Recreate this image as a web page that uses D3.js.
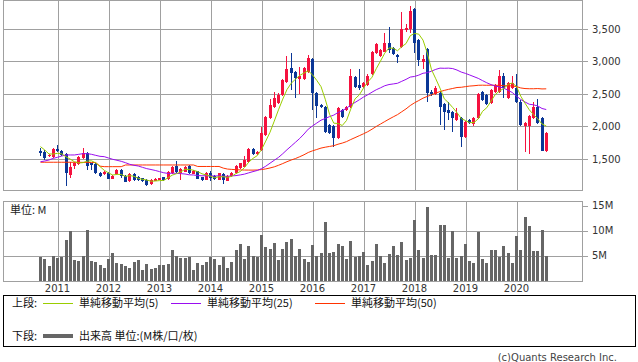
<!DOCTYPE html>
<html>
<head>
<meta charset="utf-8">
<script src="https://cdn.jsdelivr.net/npm/d3@7"></script>
<style>
  body { margin: 0; background: #fff; }
  svg text { font-family: "DejaVu Sans", sans-serif; }
  .jp { font-family: "Noto Sans CJK JP", sans-serif !important; }
</style>
</head>
<body>
<div id="chart"></div>
<script>
// monthly candles, Sep 2010 .. Aug 2020
var openP = [1628,1612,1540,1526,1649,1628,1577,1254,1392,1423, 1520,1590,1434,1428,1289,1264,1289,1197,1264,1335,
  1238,1166,1269,1228,1203,1177,1115,1161,1177,1218, 1188,1280,1397,1290,1305,1397,1274,1310,1218,1177,
  1289,1238,1177,1269,1166,1238,1280,1357,1382,1458, 1654,1580,1638,1869,2126,2305,2357,2485,2689,2895,
  2843,2726,2726,2843,3034,2511,2331,2305,2023,2008, 1823,2254,2254,2300,2762,2638,2608,2638,2808,3131,
  3085,3150,3280,3200,3100,3228,3490,3495,3808,3331, 2992,3188,2530,2500,2515,2346,2254,2223,2100,2131,
  1846,2100,2043,2131,2526,2480,2362,2530,2530,2777, 2438,2592,2592,2377,2008,2008,2130,2300,2130,1623];
var highP = [1665,1640,1575,1665,1715,1640,1590,1458,1460,1540, 1665,1600,1440,1440,1300,1315,1300,1250,1345,1350,
  1250,1280,1285,1240,1215,1190,1185,1200,1215,1230, 1310,1395,1470,1355,1395,1410,1330,1320,1225,1300,
  1310,1250,1290,1280,1250,1300,1410,1445,1540,1665, 1670,1625,1990,2160,2420,2535,2520,2730,3092,3123,
  2860,2920,2910,3100,3050,2530,2345,2320,2040,2030, 2300,2270,2320,2880,2780,2880,2690,2800,3160,3290,
  3190,3438,3535,3220,3110,3766,3570,3854,3820,3340, 3100,3205,2560,2620,2530,2360,2382,2240,2285,2150,
  2085,2115,2145,2520,2540,2500,2580,2660,2869,2830, 2690,2777,2800,2400,2070,2180,2380,2420,2150,1915];
var lowP = [1546,1490,1525,1515,1600,1550,1089,1208,1340,1410, 1505,1331,1330,1270,1230,1250,1185,1190,1255,1200,
  1140,1150,1165,1165,1150,1085,1100,1155,1170,1165, 1180,1270,1290,1177,1295,1275,1265,1185,1165,1170,
  1160,1175,1170,1115,1160,1230,1270,1345,1370,1440, 1560,1560,1620,1855,2110,2290,2340,2470,2670,2562,
  2434,2500,2710,2830,2254,2130,2285,1900,1885,1685, 1810,2130,2240,2290,2590,2560,2590,2620,2790,3120,
  3070,3140,3130,3100,2972,3210,3460,3440,3131,2930, 2880,2377,2470,2480,2023,1946,2100,1915,2090,1685,
  1830,2040,2010,2120,2390,2330,2345,2510,2510,2440, 2420,2570,2360,2000,1615,1580,2110,2040,1620,1610];
var closeP = [1597,1510,1560,1649,1617,1562,1280,1382,1443,1526, 1590,1397,1403,1280,1246,1305,1197,1238,1331,1240,
  1151,1269,1177,1177,1161,1100,1177,1192,1208,1177, 1300,1382,1305,1341,1382,1290,1315,1197,1177,1289,
  1203,1187,1280,1177,1238,1289,1397,1434,1485,1654, 1577,1610,1895,2142,2331,2434,2485,2715,2880,2818,
  2742,2777,2895,3049,2511,2315,2300,1920,1900,1823, 2285,2146,2305,2777,2608,2592,2670,2777,3140,3269,
  3177,3280,3177,3115,3075,3495,3515,3782,3289,3023, 3038,2520,2500,2592,2300,2223,2208,2131,2208,1838,
  2070,2054,2131,2500,2408,2350,2562,2638,2777,2592, 2669,2669,2377,2023,2054,2162,2300,2054,1623,1900];

// volume, millions
var volume = [4.7,4.3,3.0,4.9,4.5,4.7,8.2,9.9,4.1,3.9, 4.9,10.2,3.9,3.7,3.1,2.5,4.3,5.5,3.5,3.3,
  3.0,2.5,3.7,4.1,2.1,3.3,2.3,2.5,3.1,3.1, 3.3,6.2,4.9,4.5,4.5,4.7,2.1,3.6,3.1,3.8,
  4.7,4.3,3.1,4.7,2.5,3.7,6.2,7.4,4.3,7.0, 4.9,4.7,9.2,6.8,6.4,7.6,4.1,6.4,7.8,8.4,
  4.9,6.4,4.3,3.7,7.2,4.9,5.5,11.8,5.6,5.8, 7.4,7.0,4.3,8.0,4.7,4.9,5.7,3.1,3.9,7.4,
  4.9,3.5,5.3,7.0,5.1,7.8,4.1,4.5,12.2,6.2, 4.5,14.8,5.1,5.1,11.2,11.2,4.5,9.9,4.5,4.9,
  7.4,3.9,3.5,9.7,4.3,3.5,6.2,6.2,4.7,7.0, 5.5,3.5,9.0,6.2,12.8,11.0,6.0,6.0,10.2,4.9];

var ma5Lead = [1690,1638,1577,1577];
var ma25Lead = [1458,1469,1485,1510,1526,1546,1562,1562,1562,1572,1582,1582,1572,1556,1541,1536,
  1515,1495,1480,1464,1443,1418,1403,1392];
var ma50Lead = [1450,1450,1450,1450,1450,1450,1450,1450,1449,1449,1448,1447,1446,1445,1390,
  1382,1382,1382,1382,1382,1408,1408,1408,1408,1408,1408,1408,1408,1408,1408,1408,1408,1408,1408,
  1408,1408,1408,1385,1385,1385,1385,1385,1385,1360,1345,1340,1335,1332,1330];

var yearLabels = ['2011','2012','2013','2014','2015','2016','2017','2018','2019','2020'];
var yearIndex = [4,16,28,40,52,64,76,88,100,112];
var priceTicks = [1500,2000,2500,3000,3500];
var volumeTicks = [5,10,15];

var width = 638, height = 362;
var left = 3, right = 582;

var svg = d3.select('#chart').append('svg')
  .attr('width', width).attr('height', height);
svg.append('rect').attr('width', width).attr('height', height).attr('fill', '#fff');

var x = d3.scaleLinear().domain([0, 119]).range([40.5, 546.25]);
var y = d3.scaleLinear().domain([1023, 3946]).range([190, 0]);
var yv = d3.scaleLinear().domain([0, 15.9]).range([281, 201]);

function px(v) { return Math.round(v) + 0.5; }

var grid = svg.append('g').attr('stroke', '#a0a0a0').attr('stroke-width', 1).attr('shape-rendering', 'crispEdges');

// panel frames
grid.append('rect').attr('x', left + 0.5).attr('y', 0.5).attr('width', right - left).attr('height', 190).attr('fill', 'none');
grid.append('rect').attr('x', left + 0.5).attr('y', 201.5).attr('width', right - left).attr('height', 80).attr('fill', 'none');

// year gridlines
yearIndex.forEach(function(d) {
  grid.append('line').attr('x1', px(x(d))).attr('x2', px(x(d))).attr('y1', 0).attr('y2', 190.5);
  grid.append('line').attr('x1', px(x(d))).attr('x2', px(x(d))).attr('y1', 201).attr('y2', 281.5);
});

// price gridlines + labels
priceTicks.forEach(function(p) {
  grid.append('line').attr('x1', left).attr('x2', right + 6).attr('y1', px(y(p))).attr('y2', px(y(p)));
});
svg.append('g').selectAll('text').data(priceTicks).enter().append('text')
  .attr('x', 592).attr('y', function(d) { return y(d); }).attr('dy', '0.36em')
  .attr('font-size', '10px').attr('fill', '#333')
  .text(d3.format(','));

// volume gridlines + labels
volumeTicks.forEach(function(v) {
  grid.append('line').attr('x1', v === 15 ? right : left).attr('x2', right + 6).attr('y1', px(yv(v))).attr('y2', px(yv(v)));
});
svg.append('g').selectAll('text').data(volumeTicks).enter().append('text')
  .attr('x', 592).attr('y', function(d) { return yv(d); }).attr('dy', '0.36em')
  .attr('font-size', '10px').attr('fill', '#333')
  .text(function(d) { return d + 'M'; });

// year labels
svg.append('g').selectAll('text').data(yearIndex).enter().append('text')
  .attr('x', function(d) { return x(d); }).attr('y', 288).attr('dy', '0.36em')
  .attr('text-anchor', 'middle').attr('font-size', '10px').attr('fill', '#333')
  .text(function(d, i) { return yearLabels[i]; });

svg.append('text').attr('class', 'jp').attr('x', 10).attr('y', 210).attr('dy', '0.36em')
  .attr('font-size', '11px').attr('fill', '#222').text('単位: M');

// volume bars
svg.append('g').attr('shape-rendering', 'crispEdges').selectAll('rect').data(volume).enter().append('rect')
  .attr('x', function(d, i) { return Math.round(x(i) - 1.5); })
  .attr('width', 3)
  .attr('y', function(d) { return yv(d); })
  .attr('height', function(d) { return yv(0) - yv(d); })
  .attr('fill', '#666');

// candles
var up = '#f5123f', down = '#0b3796';
var candles = svg.append('g').attr('shape-rendering', 'crispEdges')
  .selectAll('g').data(closeP).enter().append('g');
candles.append('line')
  .attr('x1', function(d, i) { return Math.round(x(i) - 1.5) + 1.5; })
  .attr('x2', function(d, i) { return Math.round(x(i) - 1.5) + 1.5; })
  .attr('y1', function(d, i) { return y(highP[i]); })
  .attr('y2', function(d, i) { return y(lowP[i]); })
  .attr('stroke', function(d, i) { return d >= openP[i] ? up : down; });
candles.append('rect')
  .attr('x', function(d, i) { return Math.round(x(i) - 1.5); })
  .attr('width', 3)
  .attr('y', function(d, i) { return y(Math.max(d, openP[i])); })
  .attr('height', function(d, i) { return Math.max(1, Math.abs(y(d) - y(openP[i]))); })
  .attr('fill', function(d, i) { return d >= openP[i] ? up : down; });

// moving averages
function movingAverage(n, lead) {
  return closeP.map(function(c, i) {
    if (i < n - 1) return lead[i];
    return d3.mean(closeP.slice(i - n + 1, i + 1));
  });
}
var line = d3.line().x(function(d, i) { return x(i); }).y(function(d) { return y(d); });
var maSeries = [
  {values: movingAverage(50, ma50Lead), color: '#ff3300'},
  {values: movingAverage(25, ma25Lead), color: '#9a0df0'},
  {values: movingAverage(5, ma5Lead), color: '#9acd00'}
];
svg.append('g').selectAll('path').data(maSeries).enter().append('path')
  .attr('d', function(d) { return line(d.values); })
  .attr('fill', 'none').attr('stroke', function(d) { return d.color; }).attr('stroke-width', 1);

// legend
svg.append('rect').attr('x', 3.5).attr('y', 295.5).attr('width', 632).attr('height', 51)
  .attr('fill', 'none').attr('stroke', '#000').attr('stroke-width', 1).attr('shape-rendering', 'crispEdges');
var legendTop = [
  {x: 43, label: '単純移動平均(5)', color: '#9acd00'},
  {x: 171, label: '単純移動平均(25)', color: '#9a0df0'},
  {x: 315, label: '単純移動平均(50)', color: '#ff3300'}
];
var lg = svg.append('g').attr('class', 'jp').attr('font-size', '11px').attr('fill', '#111');
lg.append('text').attr('class', 'jp').attr('x', 12).attr('y', 303).attr('dy', '0.36em').text('上段:');
legendTop.forEach(function(d) {
  lg.append('line').attr('x1', d.x).attr('x2', d.x + 30).attr('y1', 303.5).attr('y2', 303.5)
    .attr('stroke', d.color).attr('stroke-width', 1);
  lg.append('text').attr('class', 'jp').attr('x', d.x + 36).attr('y', 303).attr('dy', '0.36em').text(d.label);
});
lg.append('text').attr('class', 'jp').attr('x', 12).attr('y', 336).attr('dy', '0.36em').text('下段:');
lg.append('line').attr('x1', 43).attr('x2', 73).attr('y1', 336).attr('y2', 336)
  .attr('stroke', '#666').attr('stroke-width', 4);
lg.append('text').attr('class', 'jp').attr('x', 79).attr('y', 336).attr('dy', '0.36em').text('出来高 単位:(M株/口/枚)');

svg.append('text').attr('x', 617).attr('y', 357).attr('dy', '0.36em').attr('text-anchor', 'end')
  .attr('font-size', '10px').attr('fill', '#444').text('(c)Quants Research Inc.');
</script>
</body>
</html>
